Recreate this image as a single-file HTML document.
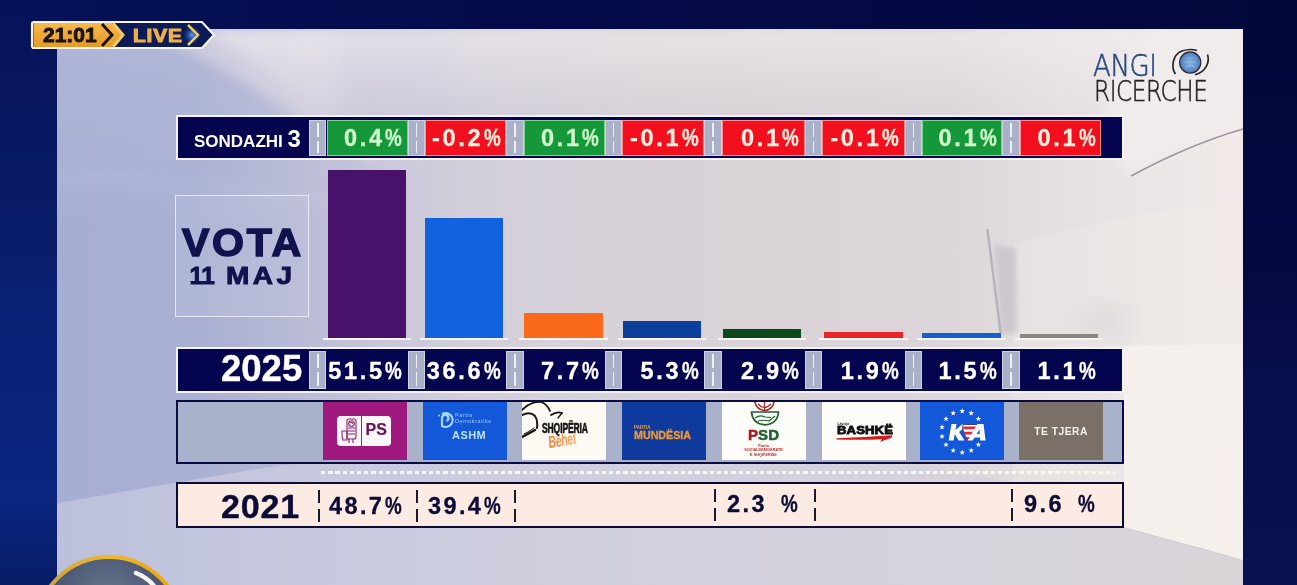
<!DOCTYPE html>
<html><head><meta charset="utf-8">
<style>
*{margin:0;padding:0;box-sizing:border-box}
html,body{width:1297px;height:585px;overflow:hidden}
body{position:relative;background:linear-gradient(180deg,#020a4a 0%,#03105a 50%,#0a2682 100%);font-family:"Liberation Sans",Arial,sans-serif}
.a{position:absolute}
#panel{left:57px;top:29px;width:1186px;height:556px;background:linear-gradient(90deg,#a2aad0 0%,#b4b8d6 20%,#d6d3df 45%,#e8e2e6 70%,#f0e9e9 100%);overflow:hidden}
.row{position:absolute;left:176px;width:948px}
.r1{top:115px;height:45px;background:#04054e;border:2px solid #f3f3f7}
.r2{top:346.5px;height:46px;background:#04054e;border:2px solid #f3f3f7}
.r3{top:399.5px;height:64px;background:#aab1cb;border:2px solid #0b0b45}
.r4{top:482px;height:46px;background:#fcebe3;border:2px solid #0b0b33}
.sep{position:absolute;width:17.3px;background:#a9b0c8;border:1px solid #cdd2e2}
.sep::after{content:"";position:absolute;left:7px;width:1.6px;top:2px;bottom:2px;background:repeating-linear-gradient(180deg,#eef0f8 0 14px,transparent 14px 17.5px)}
.cell{position:absolute;width:82px;text-align:right;padding-right:2px;font-weight:bold;font-size:23.5px;letter-spacing:2.7px;white-space:nowrap}
.p{display:inline-block;transform:scaleX(0.8);transform-origin:0 50%;margin-left:0.5px;margin-right:-4px}
.g{background:#15983a;color:#d2f7cc;border:1px solid #7fd08a;-webkit-text-stroke:0.3px #d2f7cc}
.rd{background:#f2101f;color:#ffeedd;border:1px solid #ff8a8a;-webkit-text-stroke:0.3px #ffeedd}
.cell.v{color:#fff;padding-right:3px;-webkit-text-stroke:0.35px #fff;line-height:40px!important}
.bar{position:absolute;bottom:247px}
.base{position:absolute;top:338px;height:2px;background:#f6f4f6}
.tile{position:absolute;top:402px;height:58px;width:84px;overflow:hidden}
.d2{position:absolute;width:2px;background:repeating-linear-gradient(180deg,#1a1a2a 0 13px,transparent 13px 19px)}
.t21{position:absolute;color:#0b0b35;font-weight:bold;font-size:23.5px;letter-spacing:2.4px;white-space:nowrap;-webkit-text-stroke:0.3px #0b0b35}
</style></head><body>
<svg class="a" style="left:0;top:0" width="1297" height="585" viewBox="0 0 1297 585">
<defs>
<linearGradient id="bgT" x1="0" y1="0" x2="1" y2="0"><stop offset="0" stop-color="#061258"/><stop offset="0.4" stop-color="#030b4a"/><stop offset="1" stop-color="#03083c"/></linearGradient>
<linearGradient id="bgL" x1="0" y1="0" x2="0" y2="1"><stop offset="0" stop-color="#061258"/><stop offset="0.45" stop-color="#0a1e6c"/><stop offset="0.55" stop-color="#0a2276"/><stop offset="0.85" stop-color="#0a2680"/><stop offset="1" stop-color="#071c66"/></linearGradient>
<linearGradient id="bgR" x1="0" y1="0" x2="0" y2="1"><stop offset="0" stop-color="#03083a"/><stop offset="0.5" stop-color="#040a42"/><stop offset="0.65" stop-color="#070f4c"/><stop offset="1" stop-color="#081252"/></linearGradient>
<linearGradient id="wall" gradientUnits="userSpaceOnUse" x1="57" y1="0" x2="1243" y2="0">
<stop offset="0" stop-color="#a6aed2"/><stop offset="0.12" stop-color="#aab0d2"/><stop offset="0.2" stop-color="#b8bad6"/><stop offset="0.28" stop-color="#c9c7da"/><stop offset="0.35" stop-color="#d3cfda"/><stop offset="0.5" stop-color="#d8d2d8"/><stop offset="0.75" stop-color="#dcd6da"/><stop offset="0.85" stop-color="#e6e0e1"/><stop offset="1" stop-color="#f0eae9"/></linearGradient>
<linearGradient id="lt" x1="0" y1="0" x2="0" y2="1"><stop offset="0" stop-color="#ffffff" stop-opacity="0.1"/><stop offset="1" stop-color="#ffffff" stop-opacity="0"/></linearGradient>
<linearGradient id="topl" x1="0" y1="0" x2="0" y2="1"><stop offset="0" stop-color="#f6f0f2" stop-opacity="0.55"/><stop offset="1" stop-color="#f6f0f2" stop-opacity="0"/></linearGradient>
<linearGradient id="tl" gradientUnits="userSpaceOnUse" x1="130" y1="0" x2="440" y2="0"><stop offset="0" stop-color="#c2c3db"/><stop offset="0.6" stop-color="#d2cede"/><stop offset="1" stop-color="#d6d0dc" stop-opacity="0"/></linearGradient>
<linearGradient id="floor" gradientUnits="userSpaceOnUse" x1="57" y1="0" x2="1243" y2="0"><stop offset="0" stop-color="#bcc0dc"/><stop offset="0.25" stop-color="#c8cade"/><stop offset="0.5" stop-color="#d2d0de"/><stop offset="0.8" stop-color="#d8d4dc"/><stop offset="1" stop-color="#d8d4d8"/></linearGradient>
</defs>
<rect x="0" y="0" width="1297" height="585" fill="url(#bgT)"/>
<rect x="0" y="0" width="57" height="585" fill="url(#bgL)"/>
<rect x="1243" y="0" width="54" height="585" fill="url(#bgR)"/>
<rect x="57" y="29" width="1186" height="556" fill="url(#wall)"/>
<path d="M125 29 C190 45 250 85 300 118 L370 165 L440 165 L440 29Z" fill="url(#tl)" filter="url(#blr)" clip-path="url(#pc)"/>
<path d="M57 168 L200 178 L330 196 L330 206 L200 192 L57 184Z" fill="#ffffff" opacity="0.06" filter="url(#blr)" clip-path="url(#pc)"/>
<rect x="40" y="29" width="300" height="200" fill="url(#lt)" filter="url(#blr)" clip-path="url(#pc)"/>
<path d="M200 29 C240 50 280 80 320 110 L1243 110 L1243 29Z" fill="url(#topl)" filter="url(#blr)" clip-path="url(#pc)"/>
<path d="M57 503 L245 471 C400 445 800 440 1000 480 C1060 495 1100 515 1124 527 C1170 540 1210 550 1243 560 L1243 585 L57 585Z" fill="url(#floor)"/>
<path d="M1124 527 C1170 540 1210 550 1243 560" stroke="#b8b4bc" stroke-width="1.2" fill="none" opacity="0.7"/>
<defs>
<clipPath id="pc"><rect x="57" y="29" width="1186" height="556"/></clipPath>
<filter id="blr2" x="-50%" y="-20%" width="200%" height="140%"><feGaussianBlur stdDeviation="2"/></filter>
<filter id="blr" x="-20%" y="-20%" width="140%" height="140%"><feGaussianBlur stdDeviation="6"/></filter>
<radialGradient id="shd" cx="0.5" cy="0.5" r="0.5"><stop offset="0" stop-color="#c8c4cc" stop-opacity="0.9"/><stop offset="1" stop-color="#c8c4cc" stop-opacity="0"/></radialGradient>
<linearGradient id="rw" gradientUnits="userSpaceOnUse" x1="1000" y1="0" x2="1243" y2="0"><stop offset="0" stop-color="#e6e0e1"/><stop offset="0.6" stop-color="#ede7e6"/><stop offset="1" stop-color="#f1ebe8"/></linearGradient>
</defs>
<path d="M1013 244 C1080 225 1170 208 1243 199 L1243 560 C1210 550 1170 540 1124 527 C1100 515 1060 495 1013 484Z" fill="url(#rw)"/>
<path d="M1124 346 L1243 344 L1243 560 C1210 550 1170 540 1124 527Z" fill="#f6f0ed"/>
<path d="M1160 29 C1110 60 1085 120 1131 176 C1170 155 1205 140 1243 129 L1243 29Z" fill="#f2eded" opacity="0.9" filter="url(#blr)" clip-path="url(#pc)"/>
<path d="M1131 176 C1170 155 1205 140 1243 129" stroke="#84828c" stroke-width="1.8" fill="none" opacity="0.8"/>
<path d="M994 245 L1016 248 L1017 333 L1001 333Z" fill="#c6c2ca" opacity="0.75" filter="url(#blr2)"/>
<path d="M987.5 230 L1000.6 333" stroke="#aeacb6" stroke-width="2.4" stroke-linecap="round" fill="none" opacity="0.85"/>
<ellipse cx="1105" cy="322" rx="42" ry="30" fill="url(#shd)" opacity="0.35"/>
</svg>


<svg class="a" style="left:0;top:540px" width="240" height="45" viewBox="0 540 240 45">
<defs>
<radialGradient id="cin" cx="0.5" cy="0.3" r="0.6"><stop offset="0" stop-color="#6a7890"/><stop offset="0.6" stop-color="#4a5874"/><stop offset="1" stop-color="#2e3a58"/></radialGradient>
<linearGradient id="cring" x1="0" y1="0" x2="1" y2="0"><stop offset="0" stop-color="#c8a040"/><stop offset="0.5" stop-color="#f0b828"/><stop offset="1" stop-color="#e8a010"/></linearGradient>
</defs>
<circle cx="109" cy="630" r="73" fill="url(#cin)" stroke="url(#cring)" stroke-width="4"/>
<path d="M136 573 Q148 578 154 586" stroke="#f4f2ea" stroke-width="4.5" stroke-linecap="round" fill="none"/>
</svg>

<!-- LIVE badge -->
<svg class="a" style="left:30px;top:20px" width="188" height="30" viewBox="0 0 188 30">
  <defs>
    <linearGradient id="gold" x1="0" y1="0" x2="0" y2="1"><stop offset="0" stop-color="#f6b94a"/><stop offset="1" stop-color="#e59a25"/></linearGradient>
    <radialGradient id="glow" cx="0.5" cy="0.5" r="0.5"><stop offset="0" stop-color="#5aa0ff"/><stop offset="1" stop-color="#1a3a9a" stop-opacity="0"/></radialGradient>
  </defs>
  <path d="M4 2 H172 L184 15 L172 28 H4 Q2 28 2 26 V4 Q2 2 4 2Z" fill="#0c1b58" stroke="#f6f4ee" stroke-width="2.2"/>
  <path d="M3.5 3 H82 L92 15 L82 27 H3.5Z" fill="url(#gold)"/>
  <path d="M72 4 L82 15 L72 26" fill="none" stroke="#1a1208" stroke-width="3"/>
  <path d="M83 3 L93 15 L83 27" fill="none" stroke="#f3c868" stroke-width="3"/>
  <circle cx="162" cy="15" r="9" fill="url(#glow)"/>
  <path d="M158 5 L168 15 L158 25" fill="none" stroke="#f0c860" stroke-width="2.5"/>
  <text x="13" y="22.3" font-family="Liberation Sans" font-weight="bold" font-size="21" fill="#1a130c" stroke="#1a130c" stroke-width="0.9">21:01</text>
  <text x="103" y="21.7" font-family="Liberation Sans" font-weight="bold" font-size="18" fill="#eeb048" stroke="#eeb048" stroke-width="1" letter-spacing="0.7" transform="translate(103 0) scale(1.16 1) translate(-103 0)">LIVE</text>
</svg>

<!-- Logo ANGI RICERCHE -->
<div class="a" style="left:1093px;top:49px;font-family:'DejaVu Sans',sans-serif;font-weight:200;color:#2b4a82;font-size:30px;line-height:34px;letter-spacing:-0.5px;transform:scaleX(0.87);transform-origin:0 0;-webkit-text-stroke:0.6px #2b4a82">ANGI</div>
<div class="a" style="left:1094px;top:75.5px;font-family:'DejaVu Sans',sans-serif;font-weight:200;color:#2a2222;font-size:27.7px;line-height:32px;letter-spacing:-0.5px;transform:scaleX(0.835);transform-origin:0 0;-webkit-text-stroke:0.5px #2a2222">RICERCHE</div>
<svg class="a" style="left:1165px;top:44px" width="50" height="36" viewBox="0 0 50 36">
  <defs><radialGradient id="gl" cx="0.5" cy="0.5" r="0.55"><stop offset="0" stop-color="#8cb4e0"/><stop offset="0.7" stop-color="#5a8cc8"/><stop offset="1" stop-color="#3a68a8"/></radialGradient></defs>
  <circle cx="25.2" cy="18.5" r="10.6" fill="url(#gl)" stroke="#27252e" stroke-width="1.1"/>
  <path d="M21 13 q4 3 8 0 M19 18 h12 M20 23 q5 -3 10 0" stroke="#9cc2ea" stroke-width="0.6" fill="none"/>
  <path d="M10.5 30 C6 24 7 11 17 7 C23 5 29 5.5 32 6.5" stroke="#2a2228" stroke-width="1.7" fill="none"/>
  <path d="M42.5 10.5 C45 18 41 28 30 30.8" stroke="#2a2228" stroke-width="1.7" fill="none"/>
</svg>

<!-- SONDAZHI row -->
<div class="row r1"></div>
<div class="sep" style="left:309.2px;top:120px;height:36px"></div>
<div class="cell g" style="left:326.5px;width:81.4px;top:120px;height:36px;line-height:34px">0.4<span class="p">%</span></div>
<div class="sep" style="left:407.9px;top:120px;height:36px"></div>
<div class="cell rd" style="left:425.2px;width:81.2px;top:120px;height:36px;line-height:34px">-0.2<span class="p">%</span></div>
<div class="sep" style="left:506.4px;top:120px;height:36px"></div>
<div class="cell g" style="left:523.7px;width:81.1px;top:120px;height:36px;line-height:34px">0.1<span class="p">%</span></div>
<div class="sep" style="left:604.8px;top:120px;height:36px"></div>
<div class="cell rd" style="left:622.1px;width:82.2px;top:120px;height:36px;line-height:34px">-0.1<span class="p">%</span></div>
<div class="sep" style="left:704.3px;top:120px;height:36px"></div>
<div class="cell rd" style="left:721.6px;width:83.2px;top:120px;height:36px;line-height:34px">0.1<span class="p">%</span></div>
<div class="sep" style="left:804.8px;top:120px;height:36px"></div>
<div class="cell rd" style="left:822.1px;width:82.6px;top:120px;height:36px;line-height:34px">-0.1<span class="p">%</span></div>
<div class="sep" style="left:904.7px;top:120px;height:36px"></div>
<div class="cell g" style="left:922.0px;width:80.4px;top:120px;height:36px;line-height:34px">0.1<span class="p">%</span></div>
<div class="sep" style="left:1002.4px;top:120px;height:36px"></div>
<div class="cell rd" style="left:1019.7px;width:81.8px;top:120px;height:36px;line-height:34px">0.1<span class="p">%</span></div>
<div class="a" style="left:194px;top:129px;color:#fff;font-weight:bold;font-size:17px;line-height:20px;white-space:nowrap">SONDAZHI <span style="font-size:24px">3</span></div>

<!-- VOTA box -->
<div class="a" style="left:175px;top:195px;width:134px;height:122px;border:1.5px solid #e6e8f2;background:rgba(200,204,226,0.25)"></div>
<div class="a" style="left:182px;top:221px;width:124px;color:#11124e;font-weight:bold;font-size:39.5px;line-height:42px;letter-spacing:2.6px;transform:scaleX(1.04);transform-origin:0 0;-webkit-text-stroke:1.5px #11124e">VOTA</div>
<div class="a" style="left:189.5px;top:263px;width:124px;color:#11124e;font-weight:bold;font-size:24.4px;line-height:26px;white-space:nowrap;-webkit-text-stroke:0.9px #11124e"><span style="letter-spacing:-0.5px">11</span><span style="display:inline-block;margin-left:11.5px;letter-spacing:3px;transform:scaleX(1.15);transform-origin:0 0">MAJ</span></div>

<!-- bars -->
<div class="a" style="left:328px;top:170px;width:78px;height:168px;background:#48126a"></div>
<div class="base" style="left:323px;width:88px"></div>
<div class="a" style="left:425px;top:218px;width:78px;height:120px;background:#1262e0"></div>
<div class="base" style="left:420px;width:88px"></div>
<div class="a" style="left:524px;top:312.5px;width:79px;height:25.5px;background:#fa6a1a"></div>
<div class="base" style="left:519px;width:89px"></div>
<div class="a" style="left:623px;top:320.5px;width:78px;height:17.5px;background:#0c3f9a"></div>
<div class="base" style="left:618px;width:88px"></div>
<div class="a" style="left:723px;top:328.5px;width:78px;height:9.5px;background:#0c4a1c"></div>
<div class="base" style="left:718px;width:88px"></div>
<div class="a" style="left:824px;top:331.5px;width:79px;height:6.5px;background:#e82424"></div>
<div class="base" style="left:819px;width:89px"></div>
<div class="a" style="left:922px;top:332.5px;width:79px;height:5.5px;background:#1560d0"></div>
<div class="base" style="left:917px;width:89px"></div>
<div class="a" style="left:1020px;top:334px;width:78px;height:4px;background:#8a8682"></div>
<div class="base" style="left:1015px;width:88px"></div>

<!-- 2025 row -->
<div class="row r2"></div>
<div class="sep" style="left:309.2px;top:351px;height:38px"></div>
<div class="cell v" style="left:326.5px;width:81.4px;top:351px;height:38px;line-height:38px">51.5<span class="p">%</span></div>
<div class="sep" style="left:407.9px;top:351px;height:38px"></div>
<div class="cell v" style="left:425.2px;width:81.2px;top:351px;height:38px;line-height:38px">36.6<span class="p">%</span></div>
<div class="sep" style="left:506.4px;top:351px;height:38px"></div>
<div class="cell v" style="left:523.7px;width:81.1px;top:351px;height:38px;line-height:38px">7.7<span class="p">%</span></div>
<div class="sep" style="left:604.8px;top:351px;height:38px"></div>
<div class="cell v" style="left:622.1px;width:82.2px;top:351px;height:38px;line-height:38px">5.3<span class="p">%</span></div>
<div class="sep" style="left:704.3px;top:351px;height:38px"></div>
<div class="cell v" style="left:721.6px;width:83.2px;top:351px;height:38px;line-height:38px">2.9<span class="p">%</span></div>
<div class="sep" style="left:804.8px;top:351px;height:38px"></div>
<div class="cell v" style="left:822.1px;width:82.6px;top:351px;height:38px;line-height:38px">1.9<span class="p">%</span></div>
<div class="sep" style="left:904.7px;top:351px;height:38px"></div>
<div class="cell v" style="left:922.0px;width:80.4px;top:351px;height:38px;line-height:38px">1.5<span class="p">%</span></div>
<div class="sep" style="left:1002.4px;top:351px;height:38px"></div>
<div class="cell v" style="left:1019.7px;width:81.8px;top:351px;height:38px;line-height:38px">1.1<span class="p">%</span></div>
<div class="a" style="left:221px;top:351px;color:#fff;font-weight:bold;font-size:36.5px;line-height:36px;-webkit-text-stroke:0.4px #fff">2025</div>

<!-- logos row -->
<div class="row r3"></div>


<!-- tiles -->
<div class="tile" style="left:323px;background:#a0197f">
  <div class="a" style="left:14px;top:14px;width:54px;height:29.5px;background:#fdf7fa;border-radius:4px"></div>
  <div class="a" style="left:38px;top:14px;width:1px;height:29.5px;background:#8a2a6a"></div>
  <svg class="a" style="left:17px;top:16px" width="20" height="26" viewBox="0 0 20 26" fill="none" stroke="#8c1f6c" stroke-width="1.1">
    <rect x="7" y="1" width="9" height="20" rx="2"/>
    <circle cx="11.5" cy="5.5" r="2.8"/>
    <path d="M10 5 q2 -2 3 1"/>
    <path d="M8 10h7M8 13h7M8 16h7"/>
    <path d="M2 13 L7 13 L7 22 L3 22 L2 18Z"/>
    <path d="M9 21 L9 25 M13 21 L13 25"/>
  </svg>
  <div class="a" style="left:42.5px;top:17.5px;color:#6e0f55;font-weight:bold;font-size:16px;line-height:20px;-webkit-text-stroke:0.2px #6e0f55">PS</div>
</div>
<div class="tile" style="left:423px;background:#1258d8">
  <svg class="a" style="left:13.5px;top:7.5px" width="18" height="19" viewBox="0 0 18 19" fill="none" stroke="#a8d4ff" stroke-width="2.2">
    <path d="M5 4 A7 7 0 1 1 5 16 V8 A3.2 3.2 0 1 1 9.5 11"/>
    <circle cx="2" cy="5.5" r="0.9" fill="#bfe0ff" stroke="none"/>
  </svg>
  <div class="a" style="left:32px;top:10px;color:#9ccaf8;font-size:5.5px;line-height:6px;letter-spacing:0.55px">Partia<br>Demokratike</div>
  <div class="a" style="left:29px;top:26px;color:#bfe0ff;font-weight:bold;font-size:11px;line-height:14px;letter-spacing:0.45px">ASHM</div>
</div>
<div class="tile" style="left:522px;background:#fdf9f3">
  <svg class="a" style="left:0;top:0" width="48" height="42" viewBox="0 0 48 42" fill="none" stroke="#151515" stroke-linecap="round">
    <path d="M0 8 Q9 -1 19 0 Q25 2 28 9" stroke-width="1.8"/>
    <path d="M0 13 Q8 9 13 14 Q16 18 15 26" stroke-width="2"/>
    <path d="M29 13 Q35 9 40 11" stroke-width="1.8"/>
    <path d="M40 11 L36 16" stroke-width="1.4"/>
    <path d="M0 35 Q6 32 13 28" stroke-width="2.4"/>
    <path d="M2 32 Q7 30 12 26" stroke-width="1"/>
  </svg>
  <div class="a" style="left:20.3px;top:18.3px;color:#121212;font-weight:bold;font-size:14px;line-height:16px;transform:scaleX(0.61);transform-origin:0 0;letter-spacing:-0.2px;-webkit-text-stroke:0.6px #121212">SHQIPËRIA</div>
  <div class="a" style="left:27.5px;top:32px;font-style:italic;font-weight:bold;font-size:17px;line-height:18px;transform:rotate(-9deg) scaleX(0.62);transform-origin:0 100%;background:linear-gradient(90deg,#ec7a30,#f6b070);-webkit-background-clip:text;background-clip:text;-webkit-text-fill-color:transparent;letter-spacing:-0.5px">Bëhet</div>
</div>
<div class="tile" style="left:621.5px;background:#0d3a9c">
  <div class="a" style="left:12.5px;top:22.5px;color:#f0a040;font-size:4.5px;line-height:5px;font-weight:bold">PARTIA</div>
  <div class="a" style="left:12.5px;top:26.5px;color:#f59a32;font-weight:bold;font-size:11.5px;line-height:13px;letter-spacing:0px;transform:scaleX(0.93);transform-origin:0 0;-webkit-text-stroke:0.3px #f59a32">MUNDËSIA</div>
</div>
<div class="tile" style="left:721.5px;background:#fefcf8">
  <svg class="a" style="left:0;top:0" width="84" height="28" viewBox="0 0 84 28" fill="none">
    <circle cx="42.5" cy="-1" r="9.5" stroke="#a8302a" stroke-width="1.7"/>
    <path d="M36 2 Q42 9 49 2 M42.5 8.5 L42.5 -2" stroke="#a8302a" stroke-width="1.2"/>
    <path d="M29.5 10 L56.5 10 Q55.5 22 43 22.8 Q30.5 22 29.5 10Z" stroke="#1e5e30" stroke-width="1.7"/>
    <path d="M33 16 Q38 12.5 43 15 L49 15.5 M36 19 Q42 17.5 47 19 L53 14" stroke="#1e5e30" stroke-width="1.2"/>
  </svg>
  <div class="a" style="left:26.5px;top:25px;font-weight:bold;font-size:15px;line-height:16px;letter-spacing:0.1px;-webkit-text-stroke:0.5px"><span style="color:#a81a1e">P</span><span style="color:#1c5e2e">SD</span></div>
  <div class="a" style="left:10px;top:41.5px;width:64px;text-align:center;color:#c02a2a;font-size:3.8px;line-height:4.5px;font-weight:bold">Partia<br>SOCIALDEMOKRATE<br>E SHQIPËRISË</div>
</div>
<div class="tile" style="left:821.5px;background:#fefcf8">
  <div class="a" style="left:16px;top:20px;color:#222;font-size:3.5px;line-height:4px;font-weight:bold">Lëvizja</div>
  <div class="a" style="left:15.5px;top:23px;color:#0e0e0e;font-weight:bold;font-size:12.5px;line-height:13px;letter-spacing:0.1px;transform:scaleX(1.05) scaleY(0.92);transform-origin:0 0;-webkit-text-stroke:0.9px #0e0e0e">BASHKË</div>
  <svg class="a" style="left:14px;top:31.5px" width="58" height="10" viewBox="0 0 58 10"><path d="M0.5 4.2 Q28 3.2 56 1.2 Q57 2.5 55 4 Q50 5.5 44 8 L46 5.2 Q24 6.2 0.5 5.4Z" fill="#d21b1b"/></svg>
</div>
<div class="tile" style="left:919.5px;background:#1258d8">
  <svg class="a" style="left:0;top:0" width="84" height="58" viewBox="0 0 84 58">
<g fill="#f4f8ff"><polygon points="42.2,6.2 42.9,8.1 45.0,8.2 43.4,9.5 43.9,11.4 42.2,10.4 40.5,11.4 41.0,9.5 39.4,8.2 41.5,8.1"/>
<polygon points="51.2,8.2 51.9,10.1 53.9,10.3 52.4,11.5 52.9,13.5 51.2,12.4 49.5,13.5 50.0,11.5 48.4,10.3 50.4,10.1"/>
<polygon points="58.4,14.0 59.1,15.9 61.1,16.0 59.6,17.3 60.1,19.2 58.4,18.1 56.7,19.2 57.2,17.3 55.6,16.0 57.6,15.9"/>
<polygon points="58.4,39.8 59.1,41.7 61.1,41.8 59.6,43.1 60.1,45.1 58.4,44.0 56.7,45.1 57.2,43.1 55.6,41.8 57.6,41.7"/>
<polygon points="51.2,45.6 51.9,47.4 53.9,47.6 52.4,48.8 52.9,50.8 51.2,49.7 49.5,50.8 50.0,48.8 48.4,47.6 50.4,47.4"/>
<polygon points="42.2,47.6 42.9,49.5 45.0,49.6 43.4,50.9 43.9,52.8 42.2,51.8 40.5,52.8 41.0,50.9 39.4,49.6 41.5,49.5"/>
<polygon points="33.2,45.6 34.0,47.4 36.0,47.6 34.4,48.8 34.9,50.8 33.2,49.7 31.5,50.8 32.0,48.8 30.5,47.6 32.5,47.4"/>
<polygon points="26.0,39.8 26.8,41.7 28.8,41.8 27.2,43.1 27.7,45.1 26.0,44.0 24.3,45.1 24.8,43.1 23.3,41.8 25.3,41.7"/>
<polygon points="22.0,31.5 22.8,33.4 24.8,33.5 23.2,34.8 23.7,36.8 22.0,35.7 20.3,36.8 20.8,34.8 19.3,33.5 21.3,33.4"/>
<polygon points="22.0,22.3 22.8,24.2 24.8,24.3 23.2,25.6 23.7,27.5 22.0,26.4 20.3,27.5 20.8,25.6 19.3,24.3 21.3,24.2"/>
<polygon points="26.0,14.0 26.8,15.9 28.8,16.0 27.2,17.3 27.7,19.2 26.0,18.1 24.3,19.2 24.8,17.3 23.3,16.0 25.3,15.9"/>
<polygon points="33.2,8.2 34.0,10.1 36.0,10.3 34.4,11.5 34.9,13.5 33.2,12.4 31.5,13.5 32.0,11.5 30.5,10.3 32.5,10.1"/></g>
<g transform="translate(29.5,22) skewX(-10)">
<path d="M2 0 H7 V6 L13 0 H19 L11 8 L18 16.5 H12 L7 10 V16.5 H2Z" fill="#fff"/>
<path d="M13.5 0.5 H30.5 Q31 7 22 17 Q13 7 13.5 0.5Z" fill="#fff" stroke="#0c2c7a" stroke-width="0.8"/>
<path d="M14.2 2.5 H30 L29.6 5.2 H14.5Z M15.3 7.8 H28.6 L27.5 10.5 H16.6Z M18 13 H26 L24 15.4 H20Z" fill="#e0283a"/>
<path d="M28 0 H34 L39 16.5 H33.5 L32.7 13.5 H27.5 L26 16.5 H21 Z M29 10 H32 L31 5.5Z" fill="#fff" fill-rule="evenodd"/>
</g>
  </svg>
</div>
<div class="tile" style="left:1018.8px;background:#7a7068">
  <div class="a" style="left:0;top:24px;width:84px;text-align:center;color:#f4f0ea;font-weight:bold;font-size:10.3px;line-height:12px;letter-spacing:0.5px;text-indent:0.5px">TE TJERA</div>
</div>

<!-- dotted line -->
<div class="a" style="left:321px;top:471.3px;width:795px;height:2.5px;background:repeating-linear-gradient(90deg,#f8f6f6 0 4.3px,transparent 4.3px 7.2px)"></div>

<!-- 2021 row -->
<div class="row r4"></div>
<div class="d2" style="left:317.5px;top:490px;height:32px"></div>
<div class="d2" style="left:415.5px;top:490px;height:32px"></div>
<div class="d2" style="left:514px;top:490px;height:32px"></div>
<div class="d2" style="left:714.3px;top:489px;height:32px"></div>
<div class="d2" style="left:813.5px;top:489px;height:32px"></div>
<div class="d2" style="left:1010.5px;top:489px;height:32px"></div>
<div class="t21" style="left:329px;top:493px;line-height:26px">48.7<span class="p">%</span></div>
<div class="t21" style="left:428px;top:493px;line-height:26px">39.4<span class="p">%</span></div>
<div class="t21" style="left:727px;top:491px;line-height:26px">2.3 <span class="p" style="margin-left:5.5px">%</span></div>
<div class="t21" style="left:1024px;top:491px;line-height:26px">9.6 <span class="p" style="margin-left:5px">%</span></div>

<div class="a" style="left:221px;top:488px;color:#0b0b35;font-weight:bold;font-size:34px;line-height:36px;letter-spacing:0.8px;-webkit-text-stroke:0.4px #0b0b35">2021</div>

</body></html>
